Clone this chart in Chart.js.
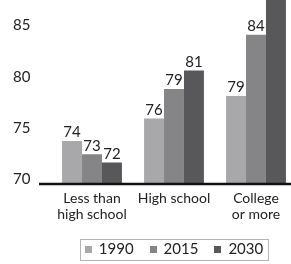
<!DOCTYPE html>
<html>
<head>
<meta charset="utf-8">
<script src="https://cdn.jsdelivr.net/npm/chart.js@4.4.1/dist/chart.umd.min.js"></script>
<style>
  html, body { margin: 0; padding: 0; background: #fff; overflow: hidden; }
  #wrap { width: 300px; height: 264px; }
</style>
</head>
<body>
<div id="wrap"><canvas id="chart"></canvas></div>
<script>
const categories = [["Less than", "high school"], "High school", ["College", "or more"]];
const years = ["1990", "2015", "2030"];
const values1990 = [74.1, 76.3, 78.5];
const values2015 = [72.8, 79.2, 84.5];
const values2030 = [72.0, 81.0, 89.0];
const labels1990 = ["74", "76", "79"];
const labels2015 = ["73", "79", "84"];
const labels2030 = ["72", "81", "89"];
const yTicks = [70, 75, 80, 85];
const barColors = ["#a8a8aa", "#858587", "#58585a"];

const FONT = "Lato, 'Open Sans', sans-serif";
const TEXT = "#222";

// value labels over each bar
const valueLabels = {
  id: "valueLabels",
  afterDatasetsDraw(chart) {
    const ctx = chart.ctx;
    const all = [labels1990, labels2015, labels2030];
    ctx.save();
    ctx.font = "15px " + FONT;
    ctx.fillStyle = TEXT;
    ctx.textAlign = "center";
    ctx.textBaseline = "bottom";
    chart.data.datasets.forEach((ds, i) => {
      chart.getDatasetMeta(i).data.forEach((bar, j) => {
        ctx.fillText(all[i][j], bar.x, bar.y - 1);
      });
    });
    ctx.restore();
  }
};

// thick baseline at 70 and a framed legend under the chart
const decorations = {
  id: "decorations",
  afterDraw(chart) {
    const ctx = chart.ctx;
    const area = chart.chartArea;
    const y = chart.scales.y.getPixelForValue(70);
    ctx.save();
    ctx.strokeStyle = "#111";
    ctx.lineWidth = 2.5;
    ctx.beginPath();
    ctx.moveTo(39, y + 1);
    ctx.lineTo(chart.width, y + 1);
    ctx.stroke();

    // legend
    ctx.font = "15px " + FONT;
    const box = 7, gap = 7, itemGap = 16, pad = 5;
    const widths = years.map(t => ctx.measureText(t).width);
    const total = widths.reduce((s, w) => s + box + gap + w, 0) + itemGap * (years.length - 1);
    const cx = (area.left + area.right) / 2;
    const cy = 249.5;
    let x = cx - total / 2;
    ctx.strokeStyle = "#b5b5b5";
    ctx.lineWidth = 1;
    ctx.strokeRect(Math.round(x - pad) + 0.5, 239.5, Math.round(total + 2 * pad), 21);
    ctx.textAlign = "left";
    ctx.textBaseline = "middle";
    years.forEach((t, i) => {
      ctx.fillStyle = barColors[i];
      ctx.fillRect(Math.round(x), Math.round(cy - box / 2), box, box);
      ctx.fillStyle = TEXT;
      ctx.fillText(t, x + box + gap, cy);
      x += box + gap + widths[i] + itemGap;
    });
    ctx.restore();
  }
};

new Chart(document.getElementById("chart"), {
  type: "bar",
  data: {
    labels: categories,
    datasets: [
      { label: years[0], data: values1990, backgroundColor: barColors[0] },
      { label: years[1], data: values2015, backgroundColor: barColors[1] },
      { label: years[2], data: values2030, backgroundColor: barColors[2] }
    ]
  },
  options: {
    responsive: true,
    maintainAspectRatio: false,
    animation: false,
    layout: { padding: { left: 13, right: 3, top: 0, bottom: 41 } },
    datasets: {
      bar: { categoryPercentage: 0.73, barPercentage: 1.0 }
    },
    scales: {
      x: {
        grid: { display: false, drawTicks: false },
        border: { display: false },
        afterFit: (scale) => { scale.height = 40; scale.paddingLeft = 0; scale.paddingRight = 0; },
        ticks: { color: TEXT, font: { family: FONT, size: 14, lineHeight: 1.1 }, padding: 8, maxRotation: 0, autoSkip: false }
      },
      y: {
        min: 70,
        max: 87.9,
        grid: { display: false, drawTicks: false },
        border: { display: false },
        afterBuildTicks: (scale) => { scale.ticks = yTicks.map(v => ({ value: v })); },
        afterFit: (scale) => { scale.width = 38; scale.paddingTop = 0; scale.paddingBottom = 0; },
        ticks: { color: TEXT, font: { family: FONT, size: 15 }, padding: 0, crossAlign: "far", labelOffset: -4 }
      }
    },
    plugins: {
      tooltip: { enabled: false },
      legend: { display: false }
    }
  },
  plugins: [valueLabels, decorations]
});
</script>
</body>
</html>
